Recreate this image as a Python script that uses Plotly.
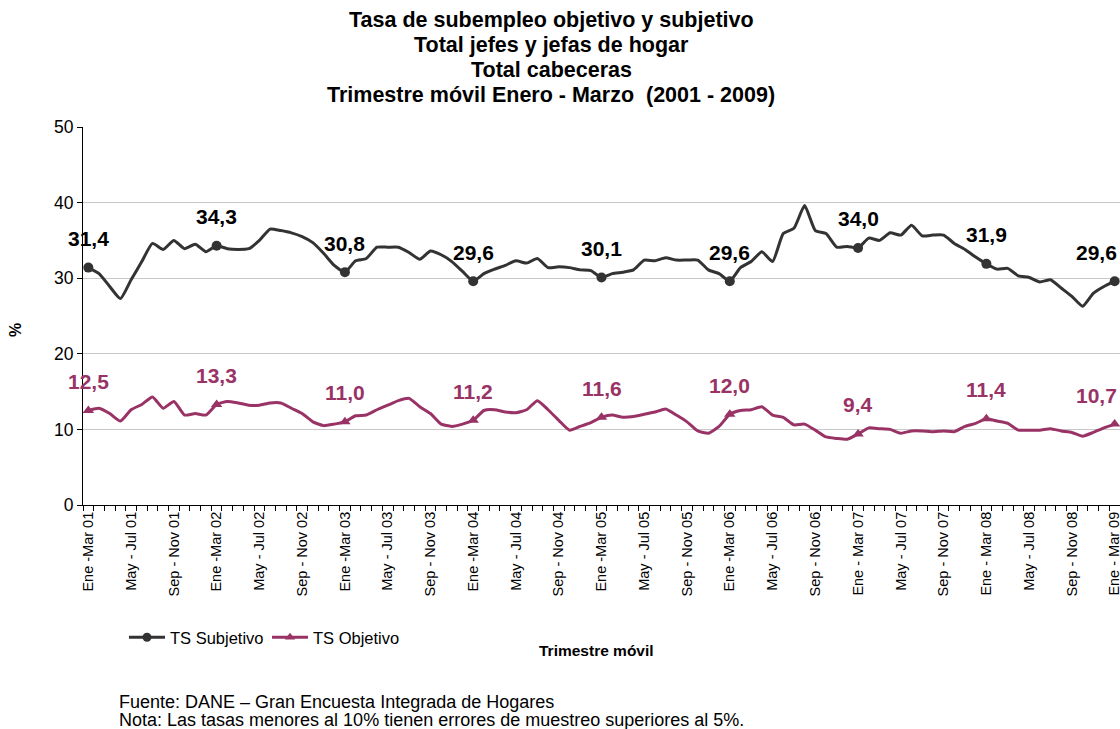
import plotly.graph_objects as go

# Trimestre móvil, monthly rolling quarters Ene-Mar 2001 .. Ene-Mar 2009
ts_subjetivo = [
    31.4, 30.6, 28.9, 27.3, 29.8, 32.2, 34.6, 33.8, 35.0, 33.9, 34.5, 33.5,
    34.3, 33.9, 33.8, 33.9, 35.0, 36.5, 36.3, 36.0, 35.5, 34.7, 33.3, 31.7,
    30.8, 32.3, 32.6, 34.1, 34.1, 34.1, 33.4, 32.5, 33.6, 33.1, 32.2, 30.9,
    29.6, 30.6, 31.2, 31.7, 32.3, 32.0, 32.6, 31.4, 31.5, 31.4, 31.1, 31.0,
    30.1, 30.6, 30.8, 31.1, 32.4, 32.3, 32.7, 32.4, 32.4, 32.4, 31.1, 30.6,
    29.6, 31.4, 32.2, 33.5, 32.2, 35.9, 36.6, 39.6, 36.3, 35.9, 34.1, 34.2,
    34.0, 35.3, 35.0, 36.0, 35.7, 37.0, 35.6, 35.7, 35.7, 34.6, 33.8, 32.8,
    31.9, 31.2, 31.3, 30.3, 30.1, 29.5, 29.8, 28.7, 27.6, 26.3, 28.0, 28.9,
    29.6,
]
ts_objetivo = [
    12.5, 12.8, 12.1, 11.1, 12.6, 13.3, 14.3, 12.8, 13.7, 11.9, 12.1, 11.9,
    13.3, 13.7, 13.5, 13.2, 13.2, 13.5, 13.5, 12.8, 12.1, 11.0, 10.5, 10.7,
    11.0, 11.8, 11.9, 12.6, 13.2, 13.8, 14.1, 13.0, 12.1, 10.7, 10.4, 10.7,
    11.2, 12.5, 12.6, 12.3, 12.2, 12.6, 13.8, 12.6, 11.2, 9.9, 10.4, 10.9,
    11.6, 11.9, 11.6, 11.7, 12.0, 12.3, 12.7, 11.9, 11.0, 9.8, 9.5, 10.4,
    12.0, 12.5, 12.6, 13.0, 11.9, 11.6, 10.6, 10.7, 9.9, 9.0, 8.8, 8.7,
    9.4, 10.2, 10.1, 10.0, 9.5, 9.8, 9.8, 9.7, 9.8, 9.7, 10.4, 10.8,
    11.4, 11.1, 10.8, 9.9, 9.9, 9.9, 10.1, 9.8, 9.6, 9.1, 9.6, 10.2,
    10.7,
]
tick_labels = [
    "Ene -Mar 01", "May - Jul 01", "Sep - Nov 01", "Ene -Mar 02", "May - Jul 02",
    "Sep - Nov 02", "Ene -Mar 03", "May - Jul 03", "Sep - Nov 03", "Ene -Mar 04",
    "May - Jul 04", "Sep - Nov 04", "Ene -Mar 05", "May - Jul 05", "Sep - Nov 05",
    "Ene -Mar 06", "May - Jul 06", "Sep - Nov 06", "Ene - Mar 07", "May - Jul 07",
    "Sep - Nov 07", "Ene - Mar 08", "May - Jul 08", "Sep - Nov 08", "Ene - Mar 09",
]
title_lines = [
    "Tasa de subempleo objetivo y subjetivo",
    "Total jefes y jefas de hogar",
    "Total cabeceras",
    "Trimestre móvil Enero - Marzo  (2001 - 2009)",
]

FONT = "Arial, Liberation Sans, sans-serif"
C_SUB = "#333333"
C_OBJ = "#993366"

n = len(ts_subjetivo)
xs = list(range(n))
marked = list(range(0, n, 12))   # Ene-Mar of each year
label_step = 4

# plot area in pixels (for placing the free texts)
L, T, B, W = 83, 127, 505, 1037
H = B - T
def py(ypix):
    return (B - ypix) / H
def px(xpix):
    return (xpix - L) / W

fig = go.Figure()
for name, vals, col, sym in [("TS Subjetivo", ts_subjetivo, C_SUB, "circle"),
                             ("TS Objetivo", ts_objetivo, C_OBJ, "triangle-up")]:
    fig.add_trace(go.Scatter(
        x=xs, y=vals, name=name, mode="lines",
        line=dict(color=col, width=3, shape="spline", smoothing=0.5),
        showlegend=False, cliponaxis=False))
    fig.add_trace(go.Scatter(
        x=[xs[i] for i in marked], y=[vals[i] for i in marked], name=name,
        mode="markers", marker=dict(color=col, size=10, symbol=sym),
        showlegend=False, cliponaxis=False))
    # legend entry: line + marker
    fig.add_trace(go.Scatter(
        x=[None], y=[None], name=name, mode="lines+markers",
        line=dict(color=col, width=3), marker=dict(color=col, size=9, symbol=sym)))
    for i in marked:
        last = i == marked[-1]
        fig.add_annotation(x=xs[i], y=vals[i], text="<b>" + f"{vals[i]:.1f}".replace(".", ",") + "</b>",
                           showarrow=False, yshift=29,
                           xanchor="right" if last else "center", xshift=4 if last else 0,
                           font=dict(family=FONT, size=21, color="#000000" if col == C_SUB else col))

# title lines
for k, t in enumerate(title_lines):
    fig.add_annotation(xref="paper", yref="paper", x=px(551), y=py(20 + 25 * k),
                       xanchor="center", yanchor="middle",
                       text=f"<b>{t}</b>", showarrow=False,
                       font=dict(family=FONT, size=21.5, color="black"))

fig.add_annotation(xref="paper", yref="paper", x=px(596), y=py(650),
                   xanchor="center", yanchor="middle",
                   text="<b>Trimestre móvil</b>", showarrow=False,
                   font=dict(family=FONT, size=15.5, color="black"))
fig.add_annotation(xref="paper", yref="paper", x=px(15), y=py(330), textangle=-90,
                   xanchor="center", yanchor="middle",
                   text="<b>%</b>", showarrow=False,
                   font=dict(family=FONT, size=16, color="black"))
fig.add_annotation(xref="paper", yref="paper", x=px(117), y=py(702),
                   xanchor="left", yanchor="middle",
                   text="Fuente: DANE – Gran Encuesta Integrada de Hogares",
                   showarrow=False, font=dict(family=FONT, size=18, color="black"))
fig.add_annotation(xref="paper", yref="paper", x=px(117), y=py(720),
                   xanchor="left", yanchor="middle",
                   text="Nota: Las tasas menores al 10% tienen errores de muestreo superiores al 5%.",
                   showarrow=False, font=dict(family=FONT, size=18, color="black"))

fig.update_layout(
    width=1120, height=729,
    margin=dict(l=L, r=0, t=T, b=729 - B, autoexpand=False),
    paper_bgcolor="white", plot_bgcolor="white",
    font=dict(family=FONT, color="black"),
    showlegend=True,
    legend=dict(orientation="h", x=px(124), y=py(620), xanchor="left", yanchor="top",
                font=dict(family=FONT, size=16.5), itemwidth=36, tracegroupgap=0,
                entrywidth=92, entrywidthmode="pixels",
                bgcolor="rgba(0,0,0,0)"),
    xaxis=dict(
        range=[-0.5, n - 0.5], automargin=False,
        tickmode="array", tickvals=xs[::label_step], ticktext=tick_labels,
        tickangle=-90, tickfont=dict(family=FONT, size=14.5), ticks="",
        ticklabeloverflow="allow",
        showline=True, linecolor="black", linewidth=1, showgrid=False, zeroline=False,
        minor=dict(tickmode="array", tickvals=[k - 0.5 for k in range(n + 1)],
                   ticks="outside", ticklen=5, tickcolor="black", showgrid=False),
    ),
    yaxis=dict(
        range=[0, 50], dtick=10, automargin=False, tickfont=dict(family=FONT, size=17.5),
        showline=True, linecolor="black", linewidth=1,
        ticks="outside", ticklen=5, tickcolor="black",
        showgrid=True, gridcolor="#c8c8c8", gridwidth=1, zeroline=False,
    ),
)

# the page's default body margin would push the 1120x729 figure off the window
fig.write_html("out.html", config={"displayModeBar": False},
               post_script="document.body.style.margin='0';")
